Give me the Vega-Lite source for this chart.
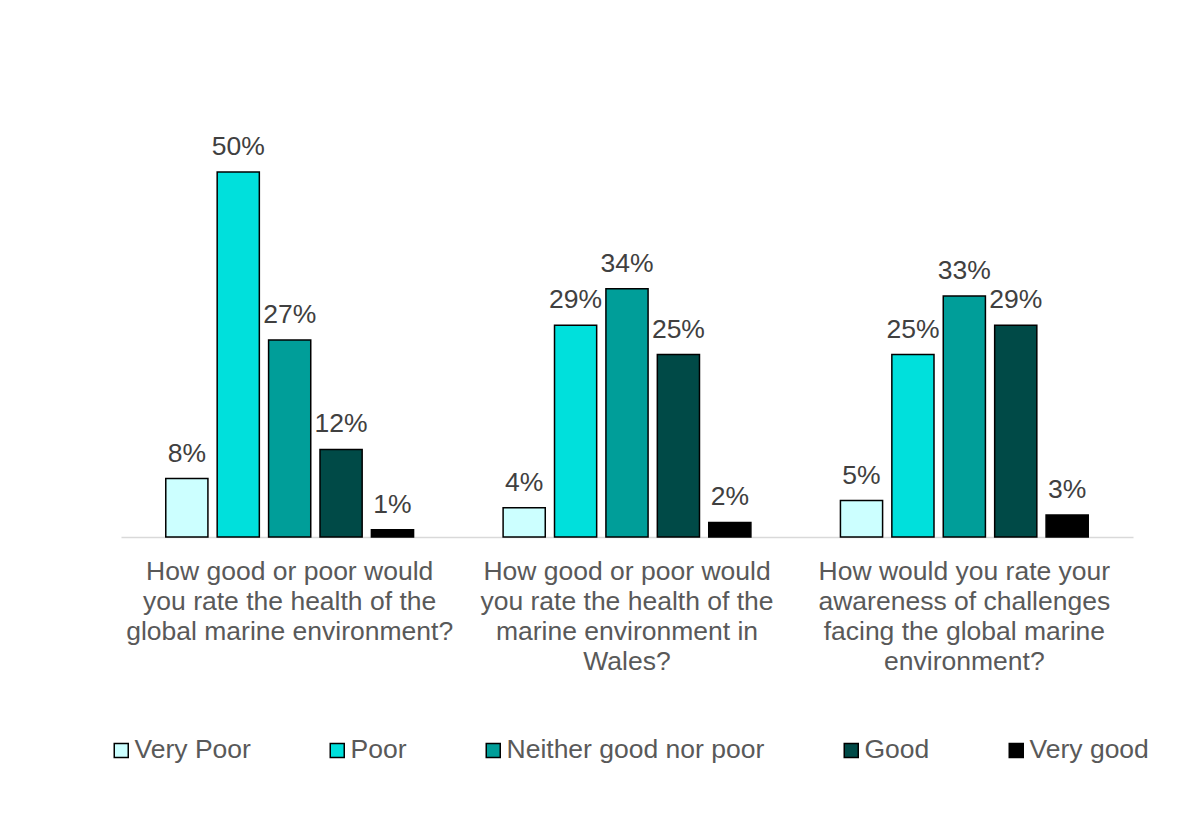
{
  "$schema": "https://vega.github.io/schema/vega-lite/v6.json",
  "width": 1012,
  "height": 438,
  "autosize": {"type": "none"},
  "padding": {"left": 121, "top": 99, "right": 70, "bottom": 291},
  "background": "white",
  "config": {
    "font": "Liberation Sans",
    "view": {"stroke": null}
  },
  "data": {
    "values": [
      {"q": "Q1", "rating": "Very Poor", "pct": 0.08},
      {"q": "Q1", "rating": "Poor", "pct": 0.50},
      {"q": "Q1", "rating": "Neither good nor poor", "pct": 0.27},
      {"q": "Q1", "rating": "Good", "pct": 0.12},
      {"q": "Q1", "rating": "Very good", "pct": 0.01},
      {"q": "Q2", "rating": "Very Poor", "pct": 0.04},
      {"q": "Q2", "rating": "Poor", "pct": 0.29},
      {"q": "Q2", "rating": "Neither good nor poor", "pct": 0.34},
      {"q": "Q2", "rating": "Good", "pct": 0.25},
      {"q": "Q2", "rating": "Very good", "pct": 0.02},
      {"q": "Q3", "rating": "Very Poor", "pct": 0.05},
      {"q": "Q3", "rating": "Poor", "pct": 0.25},
      {"q": "Q3", "rating": "Neither good nor poor", "pct": 0.33},
      {"q": "Q3", "rating": "Good", "pct": 0.29},
      {"q": "Q3", "rating": "Very good", "pct": 0.03}
    ]
  },
  "encoding": {
    "x": {
      "field": "q",
      "type": "nominal",
      "sort": ["Q1", "Q2", "Q3"],
      "scale": {"paddingInner": 0.238, "paddingOuter": 0.119},
      "axis": {
        "title": null,
        "labelAngle": 0,
        "ticks": false,
        "domainColor": "#D9D9D9",
        "domainWidth": 1.5,
        "labelFontSize": 26.5,
        "labelColor": "#595959",
        "labelLineHeight": 30,
        "labelPadding": 21,
        "labelLimit": 500,
        "labelExpr": "datum.value == 'Q1' ? ['How good or poor would', 'you rate the health of the', 'global marine environment?'] : datum.value == 'Q2' ? ['How good or poor would', 'you rate the health of the', 'marine environment in', 'Wales?'] : ['How would you rate your', 'awareness of challenges', 'facing the global marine', 'environment?']"
      }
    },
    "xOffset": {
      "field": "rating",
      "type": "nominal",
      "scale": {"domain": ["Very Poor", "Poor", "Neither good nor poor", "Good", "Very good"], "paddingInner": 0.18, "paddingOuter": 0.09}
    },
    "y": {
      "field": "pct",
      "type": "quantitative",
      "scale": {"domain": [0, 0.6]},
      "axis": null
    }
  },
  "layer": [
    {
      "mark": {"type": "bar", "stroke": "#000000", "strokeWidth": 1.5},
      "encoding": {
        "color": {
          "field": "rating",
          "type": "nominal",
          "scale": {
            "domain": ["Very Poor", "Poor", "Neither good nor poor", "Good", "Very good"],
            "range": ["#CCFFFF", "#00E0DC", "#009E99", "#004A47", "#000000"]
          },
          "legend": {
            "title": null,
            "orient": "none",
            "direction": "horizontal",
            "legendX": -13,
            "legendY": 638,
            "symbolType": "square",
            "symbolSize": 196,
            "symbolStrokeColor": "#000000",
            "symbolStrokeWidth": 1.5,
            "symbolOpacity": 1,
            "labelFontSize": 26.5,
            "labelColor": "#595959",
            "labelOffset": 0,
            "columnPadding": 73,
            "labelLimit": 400
          }
        }
      }
    },
    {
      "mark": {"type": "text", "baseline": "bottom", "dy": -11, "fontSize": 26.5, "color": "#404040"},
      "encoding": {
        "text": {"field": "pct", "type": "quantitative", "format": ".0%"},
        "detail": {"field": "rating"}
      }
    }
  ]
}
